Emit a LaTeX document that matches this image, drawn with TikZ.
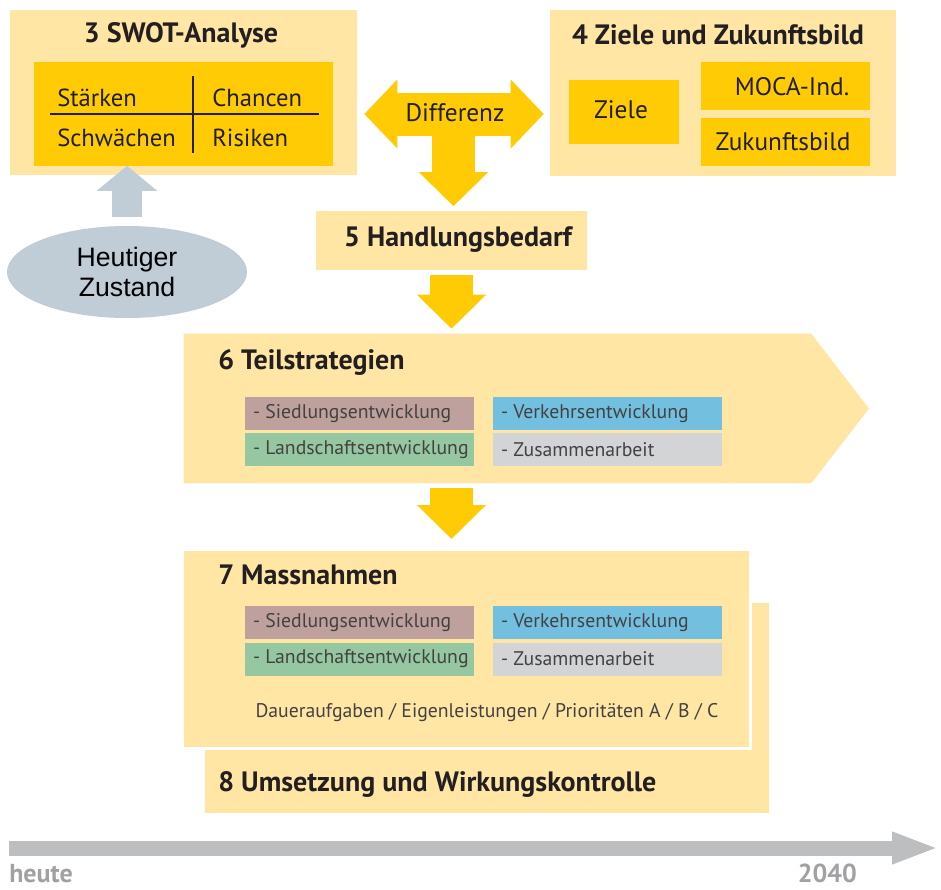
\documentclass[tikz,border=0pt]{standalone}
\usepackage{fontspec}
\setmainfont{PT Sans}
\newfontfamily\arialfont{Liberation Sans}
\usetikzlibrary{arrows.meta,calc,shapes.geometric}

\definecolor{lightyel}{HTML}{FFE6A5}
\definecolor{darkyel}{HTML}{FFCB05}
\definecolor{siedl}{HTML}{BEA19C}
\definecolor{verk}{HTML}{72BFE0}
\definecolor{landsch}{HTML}{95C8A0}
\definecolor{zusam}{HTML}{D3D4D6}
\definecolor{greyblue}{HTML}{C0CDD6}
\definecolor{tlgrey}{HTML}{BDBEC0}
\definecolor{txt}{HTML}{231F20}

\tikzset{
  panel/.style={fill=lightyel, inner sep=0pt},
  inner/.style={fill=darkyel, inner sep=0pt},
  topic/.style={inner sep=0pt, minimum width=171.75pt, minimum height=24.75pt},
  heading/.style={font=\fontsize{21}{24}\selectfont\bfseries, text=txt, inner sep=0pt},
  plain/.style={font=\fontsize{19}{22}\selectfont, text=txt, inner sep=0pt},
  swottxt/.style={font=\fontsize{18.5}{22}\selectfont, text=txt, inner sep=0pt, anchor=base west},
  topictxt/.style={font=\fontsize{14.8}{17}\selectfont, text=txt!85, inner sep=0pt, anchor=west},
  yelarrow/.style={draw=darkyel, line width=32.25pt, -{Triangle[width=50.25pt,length=25.5pt]}},
  greyarrow/.style={draw=greyblue, line width=22.5pt, -{Triangle[width=44.25pt,length=18.75pt]}},
  timeline/.style={draw=tlgrey, line width=11.25pt, -{Triangle[width=21.75pt,length=35.25pt]}},
  tltxt/.style={font=\fontsize{19.5}{22}\selectfont\bfseries, text=tlgrey!85!black, inner sep=0pt},
}

\begin{document}
\begin{tikzpicture}[x=0.75pt, y=-0.75pt]
  \useasboundingbox (0,0) rectangle (941,889);

  % 3 SWOT
  \node[panel, minimum width=260.25pt, minimum height=123.75pt] (swotbox) at (183.5,92.5) {};
  \node[heading] (swottitle) at (181,35) {3 SWOT-Analyse};
  \node[inner, minimum width=224.25pt, minimum height=78pt] (swot) at (183.5,113.5) {};
  \draw[txt, line width=1pt] (50,114) -- (319,114);
  \draw[txt, line width=1pt] (193,76) -- (193,153);
  \node[swottxt] (staerken) at (57,106) {Stärken};
  \node[swottxt] (chancen) at (212,106) {Chancen};
  \node[swottxt] (schwaechen) at (57,146) {Schwächen};
  \node[swottxt] (risiken) at (212,146) {Risiken};

  % heute
  \node[fill=greyblue, ellipse, minimum width=180pt, minimum height=69pt, inner sep=0pt,
        align=center, font=\arialfont\fontsize{20}{23}\selectfont] (hz) at (127,272) {Heutiger\\Zustand};
  \draw[greyarrow, shorten <=6.75pt] (hz.north) -- (hz.north |- swot.south);

  % 4 Ziele
  \node[panel, minimum width=259.5pt, minimum height=124.5pt] (zbox) at (723,93) {};
  \node[heading] (ztitle) at (718,35) {4 Ziele und Zukunftsbild};
  \node[inner, minimum width=82.5pt, minimum height=48pt] (ziele) at (624,112) {};
  \node[plain] at (621,110) {Ziele};
  \node[inner, minimum width=126.75pt, minimum height=36pt] (moca) at (785.5,85.5) {};
  \node[plain] at (792,87) {MOCA-Ind.};
  \node[inner, minimum width=126.75pt, minimum height=36pt] (zukunft) at (785.5,141.5) {};
  \node[plain] at (783,142) {Zukunftsbild};

  % 5 Handlungsbedarf
  \node[panel, minimum width=203.25pt, minimum height=44.25pt] (hb) at (451.5,240) {};
  \node[heading] at (458,240) {5 Handlungsbedarf};

  % Differenz
  \coordinate (diff) at (453.5,114);
  \draw[draw=darkyel, line width=32.25pt, {Triangle[width=50.25pt,length=24.75pt]}-{Triangle[width=50.25pt,length=24.75pt]},
        shorten <=5.25pt, shorten >=4.5pt] (swotbox.east |- diff) -- (zbox.west |- diff);
  \draw[yelarrow, shorten >=3pt] (diff) -- (diff |- hb.north);
  \node[plain] (difftxt) at (455,113) {Differenz};

  % 6 Teilstrategien
  \node[inner sep=0pt, minimum width=470.25pt, minimum height=111.75pt] (ts) at (497.5,408.5) {};
  \fill[lightyel] (ts.north west) -- (ts.north east) -- (869,408.5) -- (ts.south east) -- (ts.south west) -- cycle;
  \node[heading, anchor=west] at (218,362) {6 Teilstrategien};
  \node[topic, fill=siedl] (ts1) at (359.5,413.5) {};
  \node[topic, fill=verk] (ts2) at (607.5,413.5) {};
  \node[topic, fill=landsch] (ts3) at (359.5,449.5) {};
  \node[topic, fill=zusam] (ts4) at (607.5,449.5) {};
  \node[topictxt] at ([xshift=6pt]ts1.west) {- Siedlungsentwicklung};
  \node[topictxt] at ([xshift=6pt]ts2.west) {- Verkehrsentwicklung};
  \node[topictxt] at ([xshift=6pt]ts3.west) {- Landschaftsentwicklung};
  \node[topictxt] at ([xshift=6pt]ts4.west) {- Zusammenarbeit};
  \draw[yelarrow, shorten <=3.75pt, shorten >=3.75pt] (hb.south) -- (hb.south |- ts.north);

  % 8 / 7
  \node[panel, minimum width=423pt, minimum height=157.5pt] (uw) at (487,708) {};
  \node[heading, anchor=west] at (218,784) {8 Umsetzung und Wirkungskontrolle};
  \node[panel, draw=white, line width=2.25pt, minimum width=426pt, minimum height=149.25pt] (mn) at (466.5,649) {};
  \node[heading, anchor=west] at (218,575) {7 Massnahmen};
  \node[topic, fill=siedl] (mn1) at (359.5,622.5) {};
  \node[topic, fill=verk] (mn2) at (607.5,622.5) {};
  \node[topic, fill=landsch] (mn3) at (359.5,659) {};
  \node[topic, fill=zusam] (mn4) at (607.5,659) {};
  \node[topictxt] at ([xshift=6pt]mn1.west) {- Siedlungsentwicklung};
  \node[topictxt] at ([xshift=6pt]mn2.west) {- Verkehrsentwicklung};
  \node[topictxt] at ([xshift=6pt]mn3.west) {- Landschaftsentwicklung};
  \node[topictxt] at ([xshift=6pt]mn4.west) {- Zusammenarbeit};
  \node[topictxt, anchor=center] at (487,713) {Daueraufgaben / Eigenleistungen / Prioritäten A / B / C};
  \draw[yelarrow, shorten <=3.75pt, shorten >=6.75pt] (hb.south |- ts.south) -- (hb.south |- mn.north);

  % Zeitachse
  \coordinate (t0) at (9,848);
  \coordinate (t1) at (939,848);
  \draw[timeline] (t0) -- (t1);
  \node[tltxt, anchor=base west] (heute) at (9,882) {heute};
  \node[tltxt, anchor=base east] (jahr) at (857,882) {2040};
\end{tikzpicture}
\end{document}
